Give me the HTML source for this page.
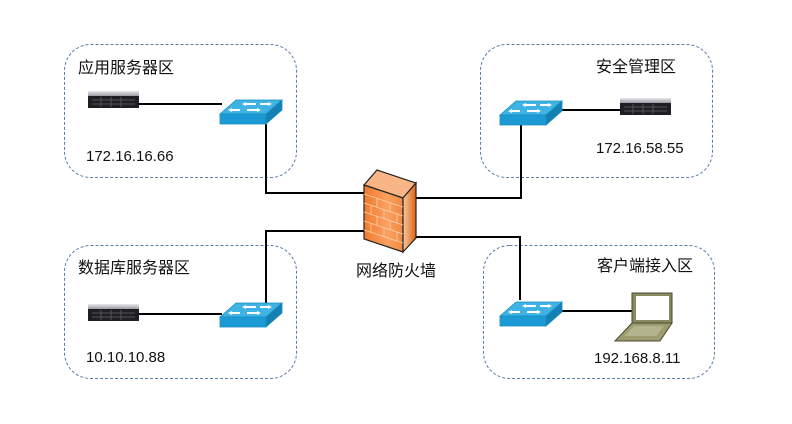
<!DOCTYPE html>
<html><head><meta charset="utf-8"><style>
html,body{margin:0;padding:0;background:#fff;}
svg{display:block;}
text{font-family:"Liberation Sans","Noto Sans CJK SC",sans-serif;fill:#111;}
</style></head><body>
<svg width="792" height="424" viewBox="0 0 792 424" xmlns="http://www.w3.org/2000/svg">
<defs>
<linearGradient id="fw" x1="0" y1="0" x2="1" y2="0">
<stop offset="0" stop-color="#f07a30"/><stop offset="0.6" stop-color="#fba060"/><stop offset="1" stop-color="#f08a40"/></linearGradient>
<linearGradient id="fws" x1="0" y1="0" x2="1" y2="0">
<stop offset="0" stop-color="#f8c8a0"/><stop offset="1" stop-color="#e06010"/></linearGradient>
<linearGradient id="srvtop" x1="0" y1="0" x2="0" y2="1">
<stop offset="0" stop-color="#e8e8ec"/><stop offset="1" stop-color="#9a9aa4"/></linearGradient>
<g id="sw">
<polygon points="0,14 16,0 62,0 46,14" fill="#3fb3e3" stroke="#1a8fc0" stroke-width="0.8"/>
<rect x="0" y="14" width="46" height="10" fill="#1c9ad6" stroke="#1a8fc0" stroke-width="0.8"/>
<polygon points="46,14 62,0 62,10 46,24" fill="#1580b4" stroke="#1a8fc0" stroke-width="0.8"/>
<path d="M10,10 h10 M24,4 h12 M27,10 h12 M40,4 h10" stroke="#fff" stroke-width="2"/>
<path d="M8,10 l4,-2 v4z M52,4 l-4,-2 v4z M22,4 l4,-2 v4z M41,10 l-4,-2 v4z" fill="#fff"/>
</g>
<g id="srv">
<rect x="0" y="0" width="51" height="5" fill="url(#srvtop)"/>
<rect x="0" y="5" width="51" height="12" fill="#1e1e24"/>
<path d="M4,9 h43 M4,13 h43 M13,6 v10 M23,6 v10 M33,6 v10" stroke="#555" stroke-width="1"/>
</g>
</defs>
<g fill="none" stroke="#5b7fa8" stroke-width="1" stroke-dasharray="3,2">
<rect x="64.5" y="44.5" width="232" height="133" rx="26"/>
<rect x="480.5" y="44.5" width="232" height="133" rx="26"/>
<rect x="64.5" y="245.5" width="232" height="133" rx="26"/>
<rect x="483.5" y="245.5" width="231" height="133" rx="26"/>
</g>
<g fill="none" stroke="#000" stroke-width="2">
<path d="M139,104 H222"/>
<path d="M266,124 V193 H365"/>
<path d="M415,198 H521 V125"/>
<path d="M562,110 H620"/>
<path d="M139,314 H222"/>
<path d="M365,231 H266 V303"/>
<path d="M415,237 H520 V300"/>
<path d="M562,311 H632"/>
</g>
<use href="#srv" x="88" y="91"/>
<use href="#srv" x="620" y="98"/>
<use href="#srv" x="88" y="304"/>
<use href="#sw" x="220" y="100"/>
<use href="#sw" x="500" y="101"/>
<use href="#sw" x="220" y="303"/>
<use href="#sw" x="500" y="302"/>
<!-- firewall -->
<polygon points="364,185 377,170 416,183 403,198" fill="#f9b585" stroke="#222" stroke-width="1.2"/>
<polygon points="364,185 403,198 403,252 364,239" fill="url(#fw)" stroke="#222" stroke-width="1.2"/>
<polygon points="403,198 416,183 416,238 403,252" fill="url(#fws)" stroke="#222" stroke-width="1.2"/>
<g stroke="#fcd0b0" stroke-width="0.8" fill="none">
<path d="M364,194 L403,207 M364,203 L403,216 M364,212 L403,225 M364,221 L403,234 M364,230 L403,243"/>
<path d="M377,198 v9 M390,203 v9 M371,205 v9 M384,210 v9 M397,214 v9 M377,216 v9 M390,221 v9 M371,223 v9 M384,228 v9 M397,232 v9"/>
</g>
<!-- laptop -->
<rect x="632" y="293" width="40" height="30" fill="#8a8a60" stroke="#4a4a30" stroke-width="1"/>
<rect x="636" y="296" width="33" height="24" fill="#fff"/>
<polygon points="632,323 672,323 660,341 615,341" fill="#9c9c70" stroke="#4a4a30" stroke-width="1"/>
<polygon points="634,326 664,326 656,336 624,336" fill="#b4b48c"/>
<text x="78" y="73" font-size="16">应用服务器区</text>
<text x="86" y="161" font-size="15">172.16.16.66</text>
<text x="596" y="72" font-size="16">安全管理区</text>
<text x="596" y="153" font-size="15">172.16.58.55</text>
<text x="78" y="273" font-size="16">数据库服务器区</text>
<text x="86" y="362" font-size="15">10.10.10.88</text>
<text x="356" y="276" font-size="16">网络防火墙</text>
<text x="597" y="271" font-size="16">客户端接入区</text>
<text x="594" y="363" font-size="15">192.168.8.11</text>
</svg>
</body></html>
